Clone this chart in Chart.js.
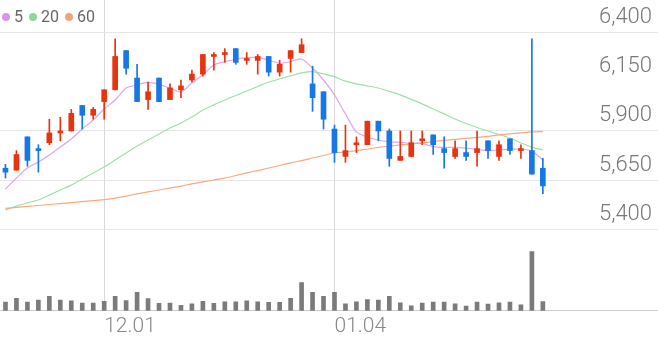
<!DOCTYPE html>
<html>
<head>
<meta charset="utf-8">
<script src="https://cdn.jsdelivr.net/npm/chart.js@4.4.1/dist/chart.umd.min.js"></script>
<style>
  html, body { margin: 0; padding: 0; background: #fff; }
  #wrap { position: relative; width: 658px; height: 342px; overflow: hidden; }
  #priceChart { position: absolute; left: 0; top: 0; }
  #volChart { position: absolute; left: 0; top: 240px; }
  .legend { position: absolute; left: 2px; top: 7px; z-index: 2; display: flex; align-items: center;
            font: 16px Roboto, sans-serif; color: #666; }
  .legend .item { display: flex; align-items: center; margin-right: 6px; }
  .legend .dot { display: inline-block; width: 8px; height: 8px; border-radius: 50%; margin-right: 4px; }
</style>
</head>
<body>
<div id="wrap">
  <div class="legend">
    <span class="item"><span class="dot" style="background:#d796ea"></span>5</span>
    <span class="item"><span class="dot" style="background:#8fd89c"></span>20</span>
    <span class="item"><span class="dot" style="background:#f4a27a"></span>60</span>
  </div>
  <canvas id="priceChart" width="658" height="240"></canvas>
  <canvas id="volChart" width="658" height="102"></canvas>
</div>
<script>
// trading days shown (10 empty slots follow on the right)
const dates = ['11.20','11.21','11.22','11.23','11.24','11.27','11.28','11.29','11.30','12.01',
  '12.04','12.05','12.06','12.07','12.08','12.11','12.12','12.13','12.14','12.15',
  '12.18','12.19','12.20','12.21','12.22','12.26','12.27','12.28','01.02','01.03',
  '01.04','01.05','01.08','01.09','01.10','01.11','01.12','01.15','01.16','01.17',
  '01.18','01.19','01.22','01.23','01.24','01.25','01.26','01.29','01.30','01.31'];
const shownTicks = ['12.01', '01.04'];
const yTicks = [5400, 5650, 5900, 6150, 6400];

const open = [5710,5700,5870,5810,5840,5890,5900,6030,5980,6050,
  6110,6310,6170,6060,6170,6060,6110,6160,6190,6280,
  6290,6320,6260,6260,6280,6200,6270,6300,6140,6100,
  5910,5770,5830,5830,5950,5900,5750,5770,5850,5880,
  5810,5770,5790,5790,5850,5770,5860,5800,5800,5710];
const close = [5690,5780,5750,5800,5890,5900,5990,5980,6010,6110,
  6280,6220,6050,6100,6050,6120,6130,6190,6290,6290,
  6300,6250,6270,6280,6200,6240,6310,6340,6070,5960,
  5790,5800,5840,5950,5900,5760,5770,5840,5860,5830,
  5790,5810,5770,5810,5800,5830,5800,5810,5680,5620];
const high = [5730,5800,5870,5830,5960,5970,6010,6030,6020,6110,
  6370,6310,6240,6150,6170,6140,6160,6210,6290,6300,
  6320,6320,6300,6290,6280,6260,6310,6370,6230,6100,
  5930,5930,5870,5950,5950,5910,5900,5900,5900,5880,
  5870,5850,5850,5900,5850,5850,5860,5830,6370,5760];
const low = [5660,5700,5720,5690,5830,5850,5900,5910,5960,5960,
  6110,6190,6050,6010,6050,6060,6070,6150,6180,6210,
  6250,6240,6240,6190,6180,6180,6200,6300,6000,5910,
  5740,5740,5790,5830,5850,5720,5750,5770,5830,5780,
  5710,5760,5750,5720,5760,5750,5780,5760,5680,5580];
// volume, thousand shares
const volume = [90,130,90,113,150,113,103,80,80,100,
  150,107,193,127,77,80,57,73,100,77,
  93,93,103,93,87,87,130,293,193,150,
  193,73,93,117,113,150,83,53,80,90,
  90,73,50,90,70,83,90,63,617,97];

const ma5 = [5604,5660,5711,5742,5778,5818,5859,5910,5956,6012,
  6058,6119,6135,6148,6138,6118,6100,6145,6186,6237,
  6254,6266,6274,6274,6262,6245,6254,6267,6221,6160,
  6084,5987,5895,5869,5854,5845,5842,5837,5837,5820,
  5816,5816,5812,5806,5800,5803,5807,5807,5798,5752];
const ma20 = [5497,5517,5533,5548,5573,5599,5624,5655,5686,5716,
  5752,5788,5823,5854,5885,5915,5941,5971,6007,6033,
  6058,6081,6104,6127,6150,6165,6181,6196,6203,6191,
  6176,6154,6140,6130,6119,6102,6084,6061,6038,6012,
  5987,5961,5938,5918,5900,5882,5864,5839,5818,5803];
const ma60 = [5505,5510,5515,5520,5525,5530,5535,5540,5545,5550,
  5558,5568,5579,5589,5599,5609,5619,5630,5640,5650,
  5660,5673,5686,5698,5711,5724,5737,5749,5762,5775,
  5788,5793,5800,5808,5816,5823,5829,5834,5839,5846,
  5852,5857,5862,5867,5872,5880,5885,5890,5895,5897];

const slots = dates.concat(Array(10).fill(''));
const candleColor = close.map((c, i) => c >= open[i] ? '#e8330f' : '#1677e6');
const vGrid = c => shownTicks.includes(slots[c.index]) ? '#d9d9d9' : 'rgba(0,0,0,0)';
const axisFont = { family: 'Roboto', size: 22, weight: '300' };

const maLine = (data, color) => ({
  type: 'line', data: data, borderColor: color, borderWidth: 1.2,
  pointRadius: 0, tension: 0.25, order: 3
});

new Chart(document.getElementById('priceChart'), {
  type: 'bar',
  data: {
    labels: slots,
    datasets: [
      maLine(ma60, '#f5aa80'),
      maLine(ma20, '#9fe0a9'),
      maLine(ma5, '#e2a4f0'),
      { data: low.map((l, i) => [l, high[i]]), backgroundColor: candleColor,
        barThickness: 1, grouped: false, order: 2 },
      { data: open.map((o, i) => [o, close[i]]), backgroundColor: candleColor,
        barThickness: 5, grouped: false, minBarLength: 1, order: 1 }
    ]
  },
  options: {
    responsive: false,
    animation: false,
    layout: { padding: 0 },
    plugins: { legend: { display: false }, tooltip: { enabled: false } },
    scales: {
      x: {
        offset: true,
        grid: { offset: false, drawTicks: false, color: vGrid },
        border: { display: false },
        ticks: { display: false, autoSkip: false }
      },
      y: {
        position: 'right',
        min: 5344,
        max: 6568,
        afterBuildTicks: s => { s.ticks = yTicks.map(v => ({ value: v })); },
        afterFit: s => { s.width = 0; s.paddingTop = 0; s.paddingBottom = 0; },
        grid: { drawTicks: false, color: c => (c.tick && c.tick.value === 6150) ? 'rgba(0,0,0,0)' : '#e6e6e6' },
        border: { display: false },
        ticks: {
          mirror: true, padding: -6, labelOffset: -15,
          font: axisFont, color: '#777',
          callback: v => v.toLocaleString('en-US')
        }
      }
    }
  }
});

new Chart(document.getElementById('volChart'), {
  type: 'bar',
  data: {
    labels: slots,
    datasets: [{ data: volume, backgroundColor: '#7b7b7b', barThickness: 4 }]
  },
  options: {
    responsive: false,
    animation: false,
    layout: { padding: 0 },
    plugins: { legend: { display: false }, tooltip: { enabled: false } },
    scales: {
      x: {
        offset: true,
        grid: { offset: false, drawTicks: false, color: vGrid },
        border: { display: true, color: '#cccccc' },
        ticks: {
          autoSkip: false, maxRotation: 0, align: 'start', padding: 3,
          font: { family: 'Roboto', size: 21, weight: '300' }, color: '#888',
          callback: (v, i) => shownTicks.includes(slots[i]) ? slots[i] : ''
        }
      },
      y: { display: false, min: 0, max: 738 }
    }
  }
});
</script>
</body>
</html>
